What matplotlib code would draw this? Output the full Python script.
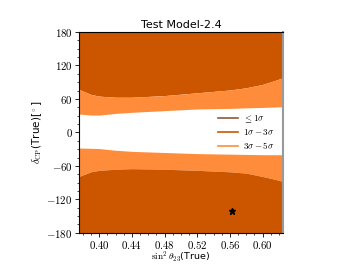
import matplotlib
matplotlib.use("Agg")
import matplotlib.pyplot as plt
from matplotlib.ticker import MultipleLocator, FuncFormatter
import numpy as np

plt.rcParams['mathtext.fontset'] = 'cm'

# sin^2 theta23 grid and contour boundaries (delta_CP in degrees)
s23 = [0.375, 0.39, 0.40, 0.42, 0.44, 0.48, 0.52, 0.56, 0.58, 0.60, 0.615, 0.625]
up_dark = [77, 68, 65, 63, 63, 66, 71, 76, 80, 86, 93, 98]
up_light = [33, 31, 31, 34, 36, 39, 42, 43, 44, 44.7, 45.5, 46]
lo_light = [-28, -28.5, -29, -32, -34, -36, -38, -39, -39.5, -40, -40, -40]
lo_dark = [-79, -70.5, -68, -66, -65, -66, -68, -70.6, -73, -79, -84, -88]

best_fit = (0.563, -140)

dark = '#cc5500'
light = '#ff8c3a'
brown = '#8b5a3c'

fig = plt.figure(figsize=(3.52, 2.64), dpi=100)
ax = fig.add_axes([0.224, 0.118, 0.580, 0.761])

ax.fill_between(s23, up_dark, 180, color=dark, lw=0)
ax.fill_between(s23, up_light, up_dark, color=light, lw=0)
ax.fill_between(s23, lo_dark, lo_light, color=light, lw=0)
ax.fill_between(s23, -180, lo_dark, color=dark, lw=0)
ax.plot(best_fit[0], best_fit[1], '*', color='black', ms=5)

ax.plot([], [], color=brown, lw=1.2, label=r'$\leq 1\sigma$')
ax.plot([], [], color=dark, lw=1.2, label=r'$1\sigma - 3\sigma$')
ax.plot([], [], color=light, lw=1.2, label=r'$3\sigma - 5\sigma$')
ax.legend(loc='center right', frameon=False, fontsize=6.5, handlelength=2.2,
          bbox_to_anchor=(1.0, 0.50), labelspacing=0.25, handletextpad=0.6)

ax.set_xlim(0.375, 0.625)
ax.set_ylim(-180, 180)
ax.xaxis.set_major_locator(MultipleLocator(0.04))
ax.xaxis.set_minor_locator(MultipleLocator(0.01))
ax.yaxis.set_major_locator(MultipleLocator(60))
ax.yaxis.set_minor_locator(MultipleLocator(15))
ax.xaxis.set_major_formatter(FuncFormatter(lambda v, p: r'$%.2f$' % v))
ax.yaxis.set_major_formatter(FuncFormatter(lambda v, p: r'$%d$' % round(v)))
ax.tick_params(labelsize=7.8, length=3, width=0.6, pad=1.5)
ax.tick_params(which='minor', length=1.5, width=0.5)
ax.spines['right'].set_color('#999999')
ax.spines['right'].set_linewidth(1.5)

ax.set_xlabel(r'$\sin^2\theta_{23}$(True)', fontsize=6.8, va='top')
ax.xaxis.set_label_coords(0.5, -0.084)
ax.set_ylabel(r'$\delta_{\rm CP}$(True)[$^\circ$]', fontsize=7.5, labelpad=2)
ax.set_title("Test Model-2.4", fontsize=8, pad=3)

fig.savefig("out.png", dpi=100)
